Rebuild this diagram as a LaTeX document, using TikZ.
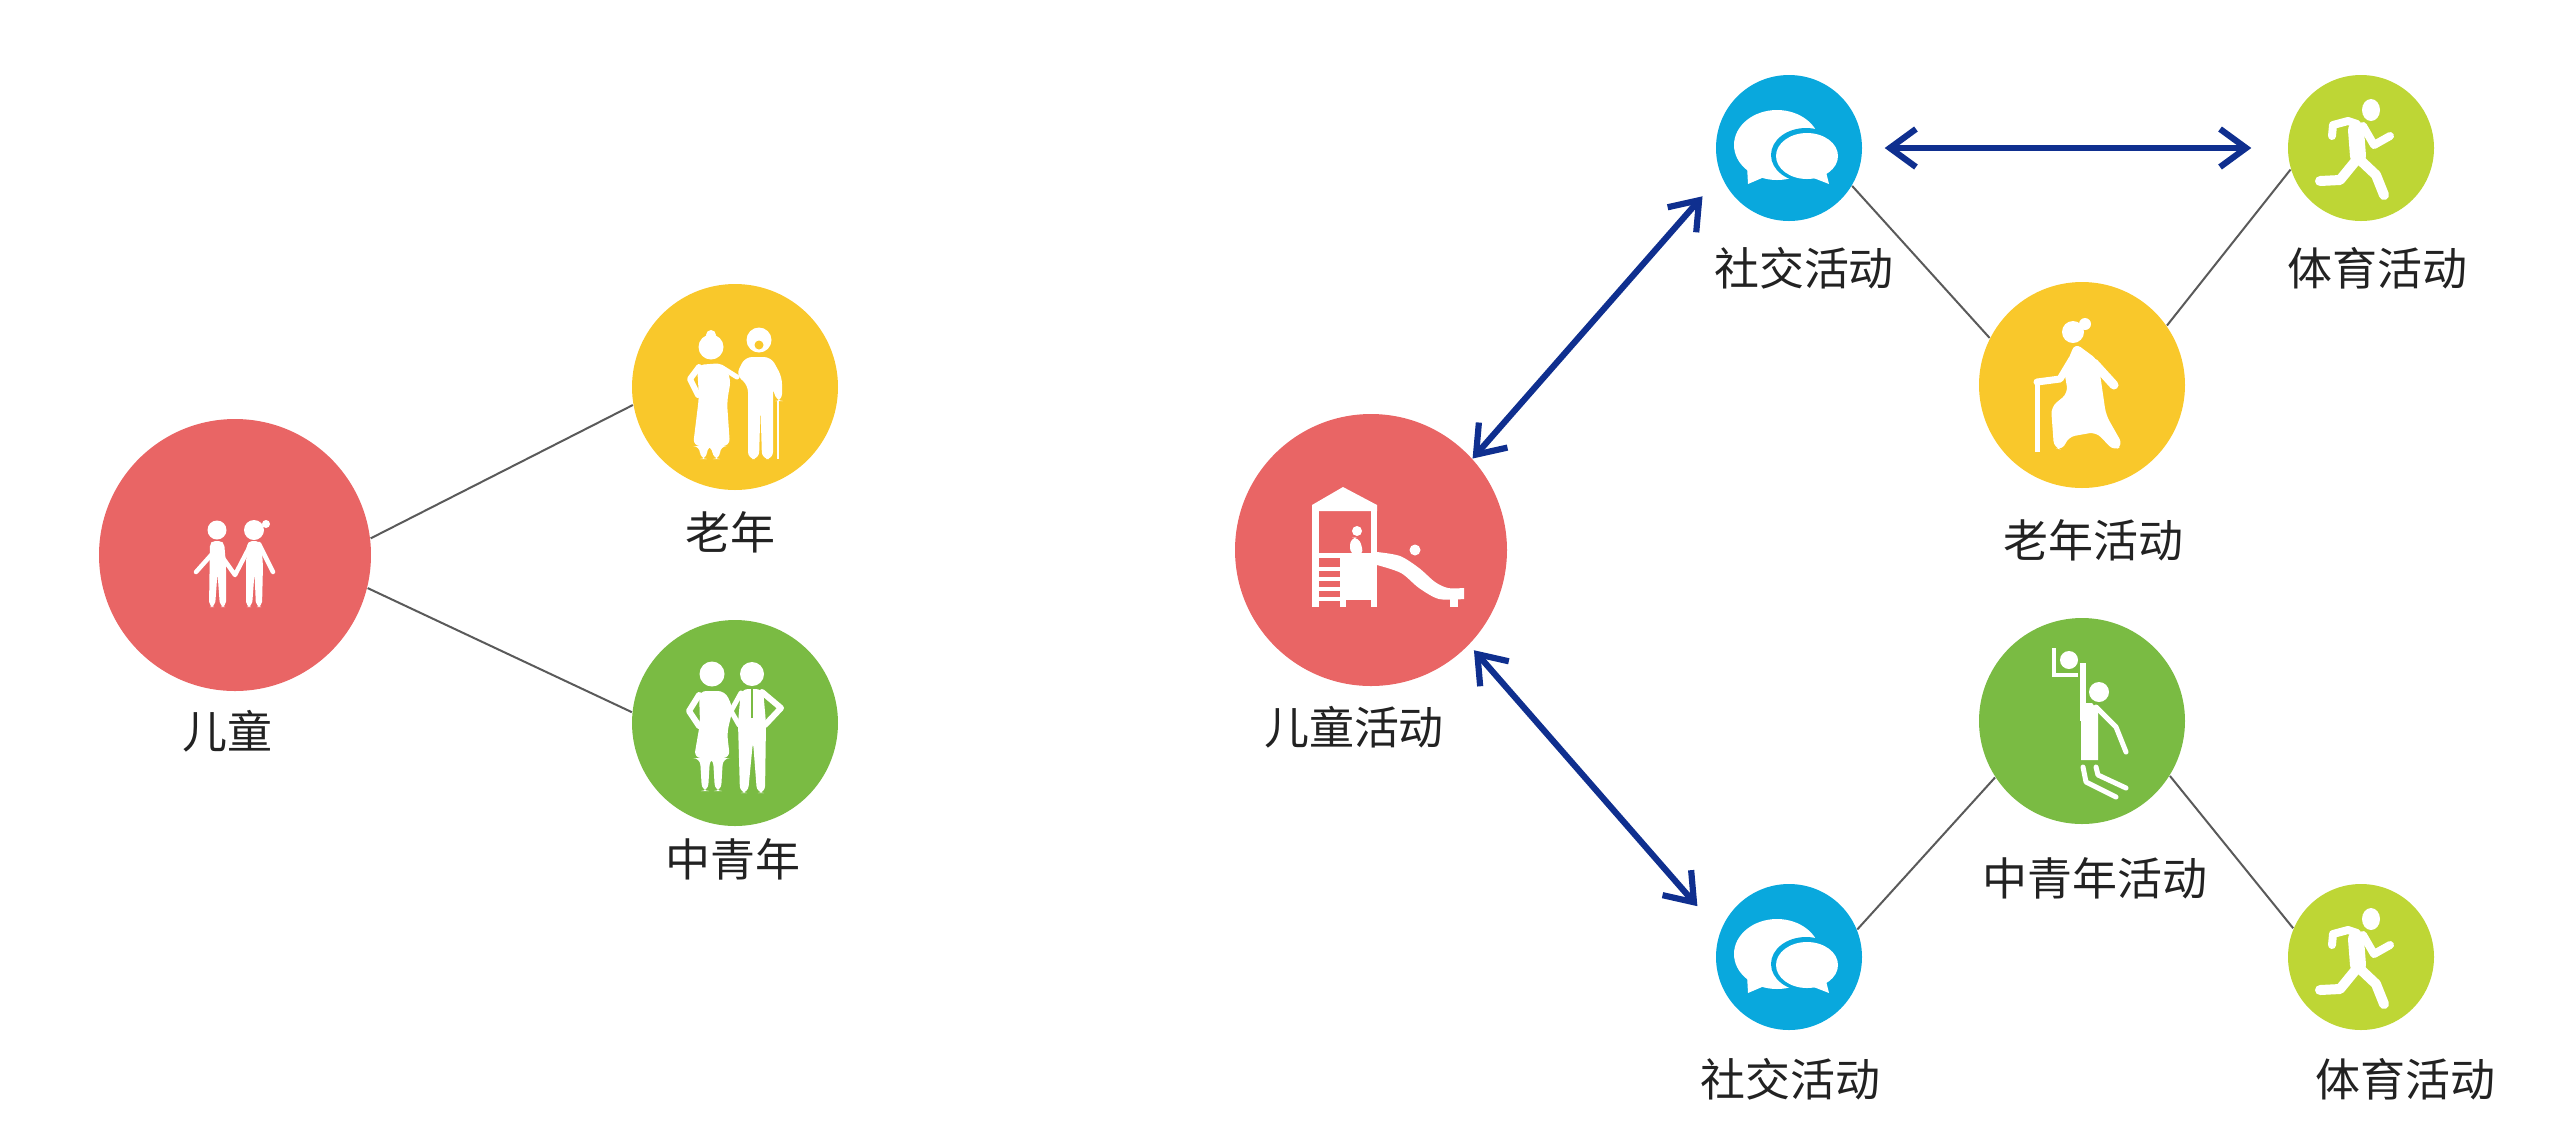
\documentclass[tikz,border=0pt]{standalone}
\usepackage{fontspec}
\newfontfamily\cjk{Noto Sans CJK SC}
\usetikzlibrary{arrows.meta}
\definecolor{cred}{HTML}{E96565}
\definecolor{cyellow}{HTML}{F9C82B}
\definecolor{cgreen}{HTML}{7ABB43}
\definecolor{cblue}{HTML}{09A8DD}
\definecolor{clime}{HTML}{BED635}
\definecolor{cnavy}{HTML}{0F2F8F}
\definecolor{cline}{HTML}{5A5A5A}
\definecolor{ctext}{HTML}{222222}
\tikzset{
  disc/.style={circle,minimum size=#1*0.2mm,inner sep=0pt,draw=none},
  lab/.style={font=\cjk\fontsize{12.8pt}{15pt}\selectfont,text=ctext,inner sep=0pt},
  link/.style={draw=cline,line width=0.2mm},
  twoway/.style={draw=cnavy,line width=0.62mm,{Straight Barb[length=2.6mm,width=3.8mm,line width=0.62mm]}-{Straight Barb[length=2.6mm,width=3.8mm,line width=0.62mm]}},
  solid white/.style={fill=white,draw=none},
  limb/.style={draw=white,line cap=round,line join=round,line width=#1*0.1mm,fill=none},
  chaticon/.pic={
    \path[solid white] (-12,-3) ellipse [x radius=43,y radius=35];
    \path[solid white] (-42,18) -- (-41,36) -- (-20,27) -- cycle;
    \path[fill=cblue] (17,7) ellipse [x radius=35,y radius=27];
    \path[solid white] (18,8) ellipse [x radius=31,y radius=23];
    \path[solid white] (36,20) -- (40,36) -- (22,29) -- cycle;
  },
  runicon/.pic={
    \path[solid white] (10,-38) ellipse [x radius=9,y radius=11];
    \draw[limb=16] (-5,-18) -- (-3,8);
    \draw[limb=8] (-4,-24) -- (-13,-27) -- (-28,-23) -- (-29,-12);
    \draw[limb=8] (2,-22) -- (13,-3) -- (29,-12);
    \draw[limb=10] (-3,10) -- (-21,32) -- (-41,33);
    \draw[limb=10] (-3,10) -- (15,27) -- (23,47);
  }
}
\begin{document}
\begin{tikzpicture}[x=0.1mm,y=-0.1mm]
\useasboundingbox (0,0) rectangle (2560,1147);
% left group
\node[disc=136,fill=cred] (child) at (235,555) {};
\node[disc=103,fill=cyellow] (old) at (735,387) {};
\node[disc=103,fill=cgreen] (mid) at (735,723) {};
\node[lab] (childlab) at (227,731) {儿童};
\node[lab] (oldlab) at (730,532) {老年};
\node[lab] (midlab) at (733,859) {中青年};
\draw[link] (child.7) -- (old.190);
\draw[link] (child.-14) -- (mid.174);
% right group
\node[disc=136,fill=cred] (childact) at (1371,550) {};
\node[disc=73,fill=cblue] (socA) at (1789,148) {};
\node[disc=73,fill=clime] (sportA) at (2361,148) {};
\node[disc=103,fill=cyellow] (oldact) at (2082,385) {};
\node[disc=103,fill=cgreen] (midact) at (2082,721) {};
\node[disc=73,fill=cblue] (socB) at (1789,957) {};
\node[disc=73,fill=clime] (sportB) at (2361,957) {};
\node[lab] (childactlab) at (1354,727) {儿童活动};
\node[lab] (socAlab) at (1804,268) {社交活动};
\node[lab] (sportAlab) at (2377,268) {体育活动};
\node[lab] (oldactlab) at (2093,540) {老年活动};
\node[lab] (midactlab) at (2095,878) {中青年活动};
\node[lab] (socBlab) at (1790,1079) {社交活动};
\node[lab] (sportBlab) at (2405,1079) {体育活动};
\draw[link] (socA.-31) -- (oldact.153);
\draw[link] (sportA.197) -- (oldact.35);
\draw[link] (socB.22) -- (midact.213);
\draw[link] (sportB.157) -- (midact.-32);
\draw[twoway,shorten <=2.2mm,shorten >=3.6mm] (socA) -- (sportA);
\draw[twoway,shorten >=2.75mm] (childact.42) -- (socA.202);
\draw[twoway,shorten <=0.7mm,shorten >=3.4mm] (childact.-44) -- (socB.160);
% children icon
\begin{scope}[shift={(235,555)}]
  \path[solid white] (-18,-25) circle [radius=9.5];
  \path[solid white] (19,-25) circle [radius=10];
  \path[solid white] (31,-31) circle [radius=4];
  \draw[limb=4.5] (-14,-11) -- (-39,17);
  \draw[limb=4.5] (-22,-11) -- (0,20) -- (16,-11);
  \draw[limb=4.5] (24,-11) -- (38,17);
  \path[solid white,rounded corners=1.5] (-25,-14) -- (-11,-14) -- (-9,10) -- (-9,52) -- (-15,52) -- (-17.5,18) -- (-20,52) -- (-26,52) -- cycle;
  \path[solid white,rounded corners=1.5] (12,-14) -- (26,-14) -- (28,10) -- (27,52) -- (21,52) -- (19.5,18) -- (17,52) -- (11,52) -- (11,10) -- cycle;
\end{scope}
% elderly couple icon
\begin{scope}[shift={(735,387)}]
  \path[solid white] (-24,-40) circle [radius=12.5];
  \path[solid white] (-24,-52) circle [radius=5];
  \path[solid white] (24,-47) circle [radius=12.5];
  \path[fill=cyellow] (24,-42) circle [radius=4.5];
  \path[solid white,rounded corners=2] (-38,-22) -- (-12,-24) -- (-4,-8) -- (-8,15) -- (-5,59) -- (-15,59) -- (-15,72) -- (-22,72) -- (-23,59) -- (-28,59) -- (-28,72) -- (-35,72) -- (-35,59) -- (-42,59) -- (-36,10) -- cycle;
  \draw[limb=6] (-36,-20) -- (-45,-8) -- (-37,8);
  \draw[limb=5] (-14,-20) -- (2,-10);
  \path[solid white,rounded corners=2] (10,-30) -- (36,-30) -- (47,-10) -- (47,14) -- (41,14) -- (38,0) -- (38,72) -- (27,72) -- (25.5,20) -- (24,72) -- (13,72) -- (13,-2) -- (1,-12) -- cycle;
  \draw[white,line width=0.25mm] (43,14) -- (43,72);
\end{scope}
% middle-aged couple icon
\begin{scope}[shift={(735,723)}]
  \path[solid white] (-23,-49) circle [radius=12.5];
  \path[solid white] (17,-49) circle [radius=12];
  \path[solid white,rounded corners=2] (-36,-32) -- (-10,-32) -- (-2,-15) -- (-8,10) -- (-5,35) -- (-12,35) -- (-14,68) -- (-20,68) -- (-22,35) -- (-25,35) -- (-27,68) -- (-33,68) -- (-35,35) -- (-41,35) -- (-35,0) -- cycle;
  \draw[limb=6] (-36,-28) -- (-46,-12) -- (-36,3);
  \path[solid white,rounded corners=2] (6,-34) -- (28,-34) -- (31,0) -- (30,70) -- (22,70) -- (18,18) -- (13,70) -- (5,70) -- (3,0) -- cycle;
  \draw[limb=6] (27,-31) -- (46,-15) -- (30,2);
  \draw[limb=5] (6,-30) -- (-4,-12) -- (4,2);
  \draw[cgreen,line width=0.2mm] (17,-34) -- (17,-5);
\end{scope}
% playground icon
\begin{scope}[shift={(1371,550)}]
  \path[solid white] (-28,-63) -- (6,-45) -- (6,-39) -- (-59,-39) -- (-59,-45) -- cycle;
  \path[solid white] (-59,-45) rectangle (-52,57);
  \path[solid white] (0,-45) rectangle (6,57);
  \path[solid white] (-28,7) rectangle (6,50);
  \path[solid white] (-59,3) rectangle (6,8);
  \path[solid white] (-31,8) rectangle (-25,57);
  \foreach \ry in {17,27,37,47} \path[solid white] (-54,\ry) rectangle (-28,\ry+4);
  \path[solid white] (-14,-19) circle [radius=5];
  \path[solid white,rounded corners=2] (-21,5) -- (-21,-12) -- (-12,-13) -- (-7,5) -- cycle;
  \path[solid white] (44,0) circle [radius=5.5];
  \path[solid white] plot[smooth] coordinates {(6,2) (29,6) (48,18) (64,32) (77,38) (93,38)} -- plot[smooth] coordinates {(93,49) (68,49) (48,38) (30,23) (6,15)} -- cycle;
  \path[solid white] (79,46) rectangle (87,57);
\end{scope}
% chat icons
\pic at (socA) {chaticon};
\pic at (socB) {chaticon};
% runner icons
\pic at (sportA) {runicon};
\pic at (sportB) {runicon};
% old woman with cane
\begin{scope}[shift={(2082,385)}]
  \path[solid white] (-9,-53) circle [radius=11];
  \path[solid white] (3,-61) circle [radius=6];
  \path[solid white,rounded corners=2] (-7,-42) -- (16,-25) -- (24,30) -- (41,60) -- (32,66) -- (14,47) -- (-14,52) -- (-19,65) -- (-28,63) -- (-31,22) -- (-14,8) -- (-18,-15) -- cycle;
  \draw[limb=9] (12,-22) -- (32,0);
  \draw[limb=7] (-10,-26) -- (-22,-6) -- (-45,-3);
  \draw[white,line width=0.5mm] (-45,-2) -- (-45,67);
\end{scope}
% basketball player
\begin{scope}[shift={(2082,721)}]
  \draw[white,line width=0.4mm] (-28,-73) -- (-28,-44);
  \draw[white,line width=0.4mm] (-28,-46) -- (-4,-46);
  \path[solid white] (-13,-61) circle [radius=9];
  \path[solid white] (17,-29) circle [radius=10];
  \draw[white,line width=0.6mm] (1,-58) -- (1,0);
  \path[solid white] (-1,-18) -- (10,-18) -- (16,-10) -- (16,39) -- (-1,39) -- cycle;
  \draw[limb=5] (14,-14) -- (34,6) -- (44,31);
  \draw[limb=5] (1,46) -- (4,61) -- (34,76);
  \draw[limb=5] (14,46) -- (16,54) -- (44,67);
\end{scope}
\end{tikzpicture}
\end{document}
